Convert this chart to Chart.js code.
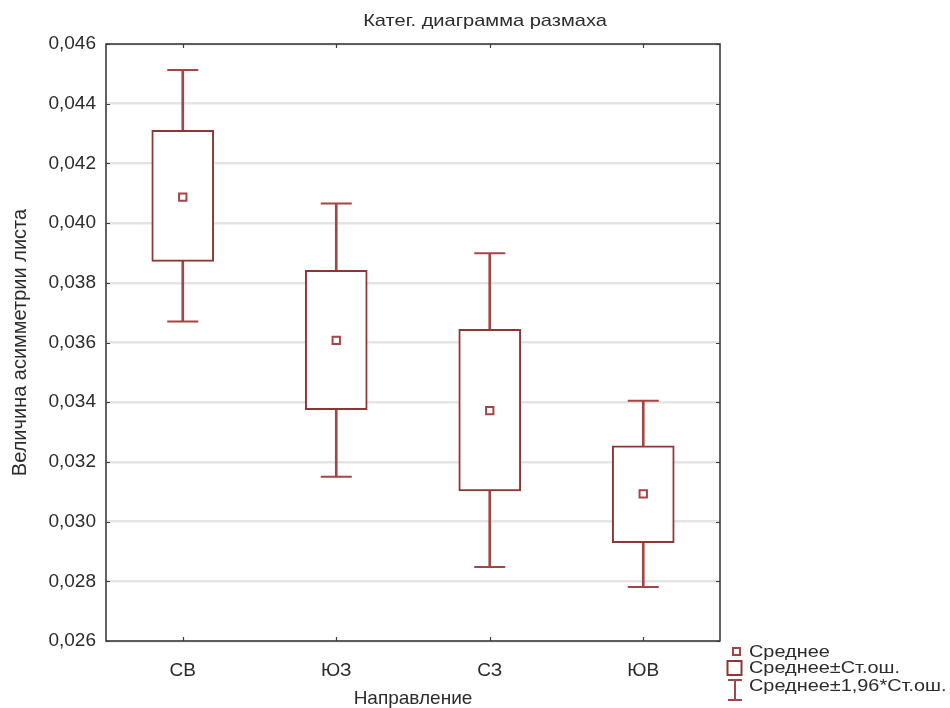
<!DOCTYPE html>
<html>
<head>
<meta charset="utf-8">
<script src="https://cdn.jsdelivr.net/npm/chart.js@4.4.1/dist/chart.umd.min.js"></script>
<style>
  html, body { margin: 0; padding: 0; background: #fff; }
  #wrap { width: 950px; height: 708px; }
</style>
</head>
<body>
<div id="wrap"><canvas id="boxChart" width="950" height="708"></canvas></div>
<script>
const directions = ["СВ", "ЮЗ", "СЗ", "ЮВ"];
const means = [0.04087, 0.03607, 0.03372, 0.03093];
const seLow = [0.03872, 0.03375, 0.03103, 0.02929];
const seHigh = [0.04311, 0.03842, 0.03644, 0.03254];
const ciLow = [0.03670, 0.03150, 0.02848, 0.02781];
const ciHigh = [0.04513, 0.04066, 0.03899, 0.03405];
const yTicks = [0.026, 0.028, 0.030, 0.032, 0.034, 0.036, 0.038, 0.040, 0.042, 0.044, 0.046];

const titleText = "Катег. диаграмма размаха";
const legendItems = ["Среднее", "Среднее±Ст.ош.", "Среднее±1,96*Ст.ош."];

const markColor = "#a54444";
const boxColor = "#8e3636";
const textColor = "#2b2b2b";
const fontFamily = "'Liberation Sans', Arial, sans-serif";

// text drawn a bit wider than the font, like the original export
function wideText(ctx, text, x, y, stretch, align) {
  ctx.save();
  ctx.translate(x, y);
  ctx.scale(stretch, 1);
  ctx.textAlign = align;
  ctx.fillText(text, 0, 0);
  ctx.restore();
}

// frame, inner ticks, title and legend
const extras = {
  id: "extras",
  afterDraw(chart) {
    const ctx = chart.ctx;
    const a = chart.chartArea;
    const xs = chart.scales.x, ys = chart.scales.y;
    ctx.save();
    ctx.strokeStyle = "#3c3c3c";
    ctx.lineWidth = 1.6;
    ctx.strokeRect(a.left, a.top, a.right - a.left, a.bottom - a.top);
    ctx.lineWidth = 1.2;
    ctx.beginPath();
    yTicks.forEach(v => {
      const y = Math.round(ys.getPixelForValue(v)) + 0.5;
      ctx.moveTo(a.left, y); ctx.lineTo(a.left + 4, y);
      ctx.moveTo(a.right, y); ctx.lineTo(a.right - 4, y);
    });
    directions.forEach((d, i) => {
      const x = Math.round(xs.getPixelForValue(i)) + 0.5;
      ctx.moveTo(x, a.top); ctx.lineTo(x, a.top + 4);
      ctx.moveTo(x, a.bottom); ctx.lineTo(x, a.bottom - 4);
    });
    ctx.stroke();

    // title
    ctx.fillStyle = textColor;
    ctx.font = "17px " + fontFamily;
    ctx.textBaseline = "middle";
    wideText(ctx, titleText, 485, 21, 1.18, "center");

    // legend
    const lx = 749, rows = [652, 668, 686];
    legendItems.forEach((t, i) => wideText(ctx, t, lx, rows[i], 1.17, "left"));
    ctx.strokeStyle = markColor;
    ctx.lineWidth = 2;
    ctx.strokeRect(733, 648, 7, 7);
    ctx.strokeStyle = boxColor;
    ctx.strokeRect(727.5, 661, 14, 14);
    ctx.strokeStyle = markColor;
    ctx.beginPath();
    ctx.moveTo(728, 680); ctx.lineTo(742, 680);
    ctx.moveTo(735, 680); ctx.lineTo(735, 700);
    ctx.moveTo(728, 700); ctx.lineTo(742, 700);
    ctx.stroke();
    ctx.restore();
  }
};

new Chart(document.getElementById("boxChart").getContext("2d"), {
  type: "bar",
  data: {
    labels: directions,
    datasets: [
      {
        type: "line",
        label: "Среднее",
        data: means,
        showLine: false,
        pointStyle: "rect",
        pointRadius: 5.2,
        pointBorderWidth: 2,
        pointBorderColor: markColor,
        pointBackgroundColor: "#fff",
        order: 0,
      },
      {
        type: "line",
        label: "ci high",
        data: ciHigh,
        showLine: false,
        pointStyle: "line",
        pointRadius: 15.5,
        pointBorderWidth: 2,
        pointBorderColor: markColor,
        order: 1,
      },
      {
        type: "line",
        label: "ci low",
        data: ciLow,
        showLine: false,
        pointStyle: "line",
        pointRadius: 15.5,
        pointBorderWidth: 2,
        pointBorderColor: markColor,
        order: 1,
      },
      {
        label: "Среднее±Ст.ош.",
        data: seLow.map((v, i) => [v, seHigh[i]]),
        backgroundColor: "#fff",
        borderColor: boxColor,
        borderWidth: 2,
        borderSkipped: false,
        barThickness: 62,
        grouped: false,
        order: 2,
      },
      {
        label: "Среднее±1,96*Ст.ош.",
        data: ciLow.map((v, i) => [v, ciHigh[i]]),
        backgroundColor: markColor,
        borderWidth: 0,
        barThickness: 2,
        grouped: false,
        order: 3,
      },
    ],
  },
  options: {
    responsive: false,
    animation: false,
    layout: { padding: { top: 44, right: 230, left: 0, bottom: 0 } },
    plugins: {
      legend: { display: false },
      tooltip: { enabled: false },
    },
    scales: {
      x: {
        offset: true,
        grid: { display: false },
        border: { display: false },
        ticks: { color: textColor, font: { family: fontFamily, size: 19 }, padding: 10 },
        title: {
          display: true,
          text: "Направление",
          color: textColor,
          font: { family: fontFamily, size: 19, lineHeight: 1 },
          padding: { top: 0, bottom: 0 },
        },
        afterFit: s => { s.height = 67; },
      },
      y: {
        min: 0.026,
        max: 0.046,
        afterBuildTicks: s => { s.ticks = yTicks.map(v => ({ value: v })); },
        grid: { color: "#e4e4e4", lineWidth: 2.5, drawTicks: false },
        border: { display: false },
        ticks: {
          color: textColor,
          font: { family: fontFamily, size: 19 },
          padding: 10,
          callback: v => v.toFixed(3).replace(".", ","),
        },
        title: {
          display: true,
          text: "Величина асимметрии листа",
          color: textColor,
          font: { family: fontFamily, size: 20, lineHeight: 1 },
          padding: { top: 10, bottom: 0 },
        },
        afterFit: s => { s.width = 106; },
      },
    },
  },
  plugins: [extras],
});
</script>
</body>
</html>
